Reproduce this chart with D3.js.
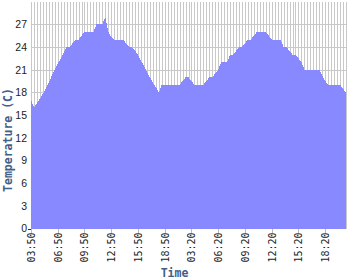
<!DOCTYPE html>
<html>
<head>
<meta charset="utf-8">
<script src="https://cdn.jsdelivr.net/npm/d3@7"></script>
<style>
html,body{margin:0;padding:0;background:#fff;}
svg{display:block;}
</style>
</head>
<body>
<svg id="chart" width="350" height="280"></svg>
<script>
const categories = [
"03:50","04:10","04:30","04:50","05:10","05:30","05:50","06:10","06:30","06:50",
"07:10","07:30","07:50","08:10","08:30","08:50","09:10","09:30","09:50","10:10",
"10:30","10:50","11:10","11:30","11:50","12:10","12:30","12:50","13:10","13:30",
"13:50","14:10","14:30","14:50","15:10","15:30","15:50","16:10","16:30","16:50",
"17:10","17:30","17:50","18:10","18:30","18:50","19:10","19:30","19:50","20:10",
"20:30","20:50","21:10","21:30",
"03:20","03:40","04:00","04:20","04:40","05:00","05:20","05:40","06:00","06:20",
"06:40","07:00","07:20","07:40","08:00","08:20","08:40","09:00","09:20","09:40",
"10:00","10:20","10:40","11:00","11:20","11:40","12:00","12:20","12:40","13:00",
"13:20","13:40","14:00","14:20","14:40","15:00","15:20","15:40","16:00","16:20",
"16:40","17:00","17:20","17:40","18:00","18:20","18:40","19:00","19:20","19:40",
"20:00","20:20","20:40"
];
const temperature = [
17,16,16.6,17.2,17.8,18.5,19.3,20.2,21,21.8,
22.5,23.3,24,24,24.5,25,25,25.5,26,26,
26,26,27,27,27,28,26,25.3,25,25,
25,25,24.5,24,24,23.5,23,22.2,21.5,20.8,
20,19.3,18.7,18,19,19,19,19,19,19,
19,19.5,20,20,19.5,19,19,19,19,19.5,
20,20,20.5,21,22,22,22,23,23,23.5,
24,24,24.5,25,25,25.5,26,26,26,26,
25.5,25,25,25,25,24,24,23.5,23,23,
22.5,22,21,21,21,21,21,21,20.3,19.5,
19,19,19,19,19,18.5,18
];
const yTicks = [0,3,6,9,12,15,18,21,24,27];
const xTickEvery = 9;

const svg = d3.select("#chart");
const pLeft = 31, pRight = 346, pTop = 1.7, pBottom = 228.5;

const x = d3.scaleLinear().domain([0, categories.length - 1]).range([pLeft, pRight]);
const y = d3.scaleLinear().domain([0, 30]).range([pBottom, pTop]);

// vertical grid (each category)
svg.append("g").selectAll("line").data(d3.range(categories.length)).join("line")
  .attr("x1", i => Math.round(x(i)) + 0.5).attr("x2", i => Math.round(x(i)) + 0.5)
  .attr("y1", pTop).attr("y2", pBottom)
  .attr("stroke", "#c8c8c8").attr("stroke-width", 1).attr("shape-rendering", "crispEdges");

// horizontal grid
svg.append("g").selectAll("line").data(yTicks.filter(d => d > 0)).join("line")
  .attr("x1", pLeft).attr("x2", pRight)
  .attr("y1", d => Math.round(y(d)) + 0.5).attr("y2", d => Math.round(y(d)) + 0.5)
  .attr("stroke", "#c8c8c8").attr("stroke-width", 1).attr("shape-rendering", "crispEdges");

// area
const area = d3.area()
  .x((d, i) => x(i))
  .y0(y(0))
  .y1(d => y(d));
svg.append("path").datum(temperature)
  .attr("d", area)
  .attr("fill", "#8888ff")
  .attr("shape-rendering", "crispEdges");

// y axis
const yAxis = d3.axisLeft(y).tickValues(yTicks).tickSize(0).tickPadding(4);
const gy = svg.append("g").attr("transform", `translate(${pLeft},0)`).call(yAxis);
gy.select(".domain").remove();
gy.selectAll("text")
  .attr("font-family", "Liberation Sans, Arial, sans-serif")
  .attr("font-size", "10.5px").attr("fill", "#222");
svg.append("line").attr("x1", pLeft - 3).attr("x2", pLeft).attr("y1", pBottom + 0.5).attr("y2", pBottom + 0.5)
  .attr("stroke", "#333").attr("shape-rendering", "crispEdges");

// x axis
const tickIdx = d3.range(0, categories.length, xTickEvery);
const xAxis = d3.axisBottom(x).tickValues(tickIdx).tickFormat(i => categories[i]).tickSize(4).tickPadding(2);
const gx = svg.append("g").attr("transform", `translate(0,${pBottom})`).call(xAxis);
gx.select(".domain").remove();
gx.selectAll(".tick line").attr("stroke", "#bbbbbb").attr("shape-rendering", "crispEdges");
gx.selectAll("text")
  .attr("font-family", "DejaVu Sans Mono, monospace")
  .attr("font-size", "10px").attr("fill", "#222")
  .attr("transform", "rotate(-90)")
  .attr("text-anchor", "end")
  .attr("x", -4).attr("y", 0).attr("dy", "0.35em");

// titles
svg.append("text").text("Time")
  .attr("x", 174.5).attr("y", 277)
  .attr("text-anchor", "middle")
  .attr("font-family", "DejaVu Sans Mono, monospace").attr("font-weight", "bold")
  .attr("font-size", "11.5px").attr("fill", "#3f6089");
svg.append("text").text("Temperature (C)")
  .attr("transform", "translate(12,140) rotate(-90)")
  .attr("text-anchor", "middle")
  .attr("font-family", "DejaVu Sans Mono, monospace").attr("font-weight", "bold")
  .attr("font-size", "11.5px").attr("fill", "#3f6089");
</script>
</body>
</html>
